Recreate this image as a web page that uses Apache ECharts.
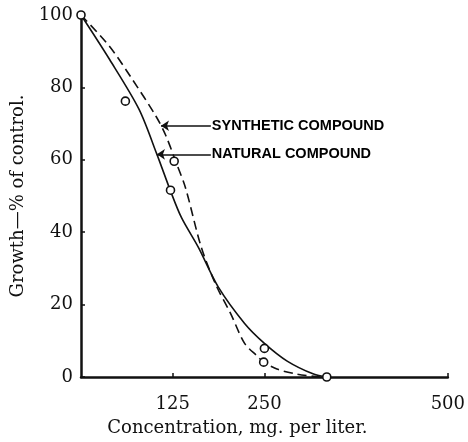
<!DOCTYPE html>
<html>
<head>
<meta charset="utf-8">
<script src="https://cdn.jsdelivr.net/npm/echarts@6/dist/echarts.min.js"></script>
<style>
html,body{margin:0;padding:0;background:#fff;}
#c{width:468px;height:442px;}
</style>
</head>
<body>
<div id="c"></div>
<script>
// Tick labels
const xTicks = [125, 250, 500];
const yTicks = [0, 20, 40, 60, 80, 100];

// Fitted curves (concentration, growth %)
const naturalCurveX = [0, 39, 79, 103.5, 122, 137, 160, 187, 223, 250, 281, 317, 335];
const naturalCurveY = [100, 87.7, 74, 61.5, 51.4, 44, 35.8, 24.9, 14.8, 9.3, 4.4, 0.8, 0];
const syntheticCurveX = [0, 39, 70, 102, 115.6, 129, 142.5, 164, 184, 204, 223, 240.6, 249, 267, 294, 317, 335];
const syntheticCurveY = [100, 91.3, 82.2, 72.1, 66.7, 59.6, 52.2, 35.8, 25.4, 17.5, 9.3, 5.7, 4.1, 2.2, 0.8, 0.2, 0];

// Observed points
const naturalPtsX = [0, 60.5, 122, 250, 335];
const naturalPtsY = [100, 76.2, 51.6, 7.9, 0];
const syntheticPtsX = [127, 249];
const syntheticPtsY = [59.6, 4.1];

// Annotation labels
const labels = ['SYNTHETIC COMPOUND', 'NATURAL COMPOUND'];
const labelArrowStartX = [177, 177];
const labelArrowEndX = [109, 103.5];
const labelY = [69.4, 61.5];

const zip = (xs, ys) => xs.map((x, i) => [x, ys[i]]);

const serif = 'DejaVu Serif';
const ink = '#111';

const chart = echarts.init(document.getElementById('c'), null, {renderer: 'canvas'});

chart.setOption({
  animation: false,
  backgroundColor: '#fff',
  grid: {left: 81, right: 15, top: 15, bottom: 61, containLabel: false},
  xAxis: {
    type: 'value', min: 0, max: 500,
    axisLine: {show: true, lineStyle: {color: ink, width: 2.5}},
    axisTick: {show: true, inside: true, length: 4, lineStyle: {color: ink, width: 1.5},
      customValues: xTicks},
    axisLabel: {customValues: xTicks, margin: 18, color: ink,
      fontFamily: serif, fontSize: 18},
    splitLine: {show: false},
    name: 'Concentration, mg. per liter.',
    nameLocation: 'middle', nameGap: 42,
    nameTextStyle: {fontFamily: serif, fontSize: 18, color: ink, padding: [0, 54, 0, 0]}
  },
  yAxis: {
    type: 'value', min: 0, max: 100,
    axisLine: {show: true, lineStyle: {color: ink, width: 2.5}},
    axisTick: {show: true, inside: true, length: 4, lineStyle: {color: ink, width: 1.5},
      customValues: yTicks},
    axisLabel: {customValues: yTicks, margin: 8, color: ink,
      fontFamily: serif, fontSize: 18},
    splitLine: {show: false},
    name: 'Growth\u2014% of control.',
    nameLocation: 'middle', nameGap: 52,
    nameTextStyle: {fontFamily: serif, fontSize: 18, color: ink}
  },
  series: [
    {
      name: 'natural curve', type: 'line', data: zip(naturalCurveX, naturalCurveY),
      smooth: 0.3, showSymbol: false, symbol: 'none',
      lineStyle: {color: ink, width: 1.6}, z: 3
    },
    {
      name: 'synthetic curve', type: 'line', data: zip(syntheticCurveX, syntheticCurveY),
      smooth: 0.3, showSymbol: false, symbol: 'none',
      lineStyle: {color: ink, width: 1.6, type: [9, 5]}, z: 3
    },
    {
      name: 'natural points', type: 'scatter', data: zip(naturalPtsX, naturalPtsY),
      symbol: 'circle', symbolSize: 8,
      itemStyle: {color: '#fff', borderColor: ink, borderWidth: 1.6, opacity: 1}, z: 5
    },
    {
      name: 'synthetic points', type: 'scatter', data: zip(syntheticPtsX, syntheticPtsY),
      symbol: 'circle', symbolSize: 8,
      itemStyle: {color: '#fff', borderColor: ink, borderWidth: 1.6, opacity: 1}, z: 5
    },
    {
      name: 'annotations', type: 'scatter',
      data: labels.map((t, i) => ({value: [labelArrowStartX[i], labelY[i]], name: t})),
      symbolSize: 0,
      itemStyle: {opacity: 1, color: ink},
      label: {show: true, position: 'right', distance: 1, formatter: p => p.name,
        fontFamily: 'Liberation Sans', fontWeight: 'bold', fontSize: 14.5, color: '#000'},
      markLine: {
        silent: true, animation: false,
        symbol: ['none', 'arrow'], symbolSize: 8,
        lineStyle: {color: ink, width: 1.6, type: 'solid', opacity: 1},
        itemStyle: {color: ink},
        label: {show: false},
        data: labels.map((t, i) => [
          {coord: [labelArrowStartX[i], labelY[i]]},
          {coord: [labelArrowEndX[i], labelY[i]]}
        ])
      },
      z: 4
    }
  ]
});
</script>
</body>
</html>
